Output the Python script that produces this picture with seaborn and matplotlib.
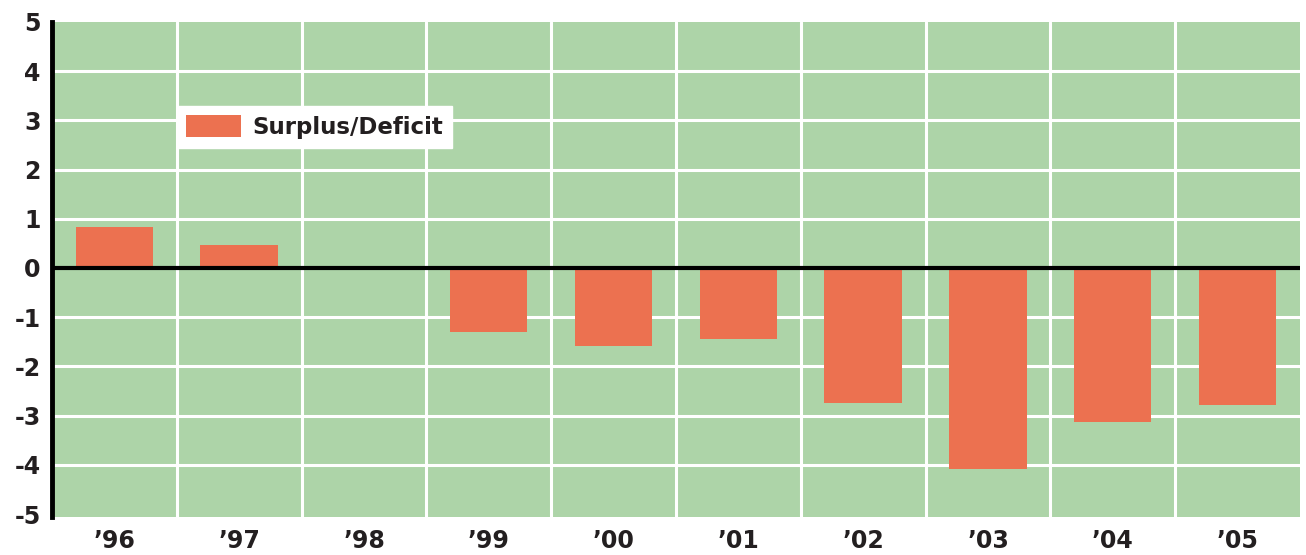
import matplotlib
matplotlib.use("Agg")
import matplotlib.pyplot as plt
import pandas as pd
import seaborn as sns

# chart data
years = ["\u201996", "\u201997", "\u201998", "\u201999", "\u201900",
         "\u201901", "\u201902", "\u201903", "\u201904", "\u201905"]
surplus = [0.83, 0.47, 0.0, -1.3, -1.58, -1.44, -2.74, -4.08, -3.14, -2.78]
y_ticks = [5, 4, 3, 2, 1, 0, -1, -2, -3, -4, -5]

bg_green = "#add4a8"
bar_red = "#ec7150"
ink = "#231f20"


def main():
    sns.set_style("white")
    plt.rcParams["font.family"] = ["DejaVu Sans"]

    df = pd.DataFrame({"year": years, "value": surplus})

    fig = plt.figure(figsize=(13.06, 5.55), dpi=100)
    ax = fig.add_axes([0.0398, 0.0685, 0.9556, 0.892])
    ax.set_facecolor(bg_green)

    sns.barplot(data=df, x="year", y="value", color=bar_red, width=0.62,
                saturation=1, linewidth=0, label="Surplus/Deficit",
                ax=ax, zorder=3)

    ax.set_xlim(-0.5, 9.5)
    ax.set_ylim(-5.06, 5.0)

    # grid: white lines between categories and at every integer
    for i in range(len(years) - 1):
        ax.axvline(i + 0.5, color="white", lw=2.2, zorder=1)
    for t in y_ticks:
        if t not in (0, -5, 5):
            ax.axhline(t, color="white", lw=2.2, zorder=1)
    ax.axhline(0, color="black", lw=3, zorder=4)

    for s in ["top", "right", "bottom"]:
        ax.spines[s].set_visible(False)
    ax.spines["left"].set_color("black")
    ax.spines["left"].set_linewidth(3.5)
    ax.spines["left"].set_zorder(5)

    ax.set_yticks(y_ticks)
    ax.set_yticklabels([str(t) if t >= 0 else "-" + str(-t) for t in y_ticks],
                       fontsize=17, fontweight="bold", color=ink)
    ax.tick_params(axis="y", length=0, pad=8)
    ax.tick_params(axis="x", length=0, pad=9)
    for lab in ax.get_xticklabels():
        lab.set_fontsize(17)
        lab.set_fontweight("bold")
        lab.set_color(ink)
    ax.set_xlabel("")
    ax.set_ylabel("")

    leg = ax.legend(loc="upper left", bbox_to_anchor=(0.1, 0.83),
                    frameon=True, fancybox=False, framealpha=1,
                    prop={"size": 16.5, "weight": "bold"},
                    handlelength=2.4, handleheight=1.1,
                    borderpad=0.4, borderaxespad=0, handletextpad=0.5)
    leg.get_frame().set_edgecolor("white")
    leg.get_frame().set_facecolor("white")
    for t in leg.get_texts():
        t.set_color(ink)

    fig.savefig("out.png", dpi=100, facecolor="white")
    plt.close(fig)


if __name__ == "__main__":
    main()
